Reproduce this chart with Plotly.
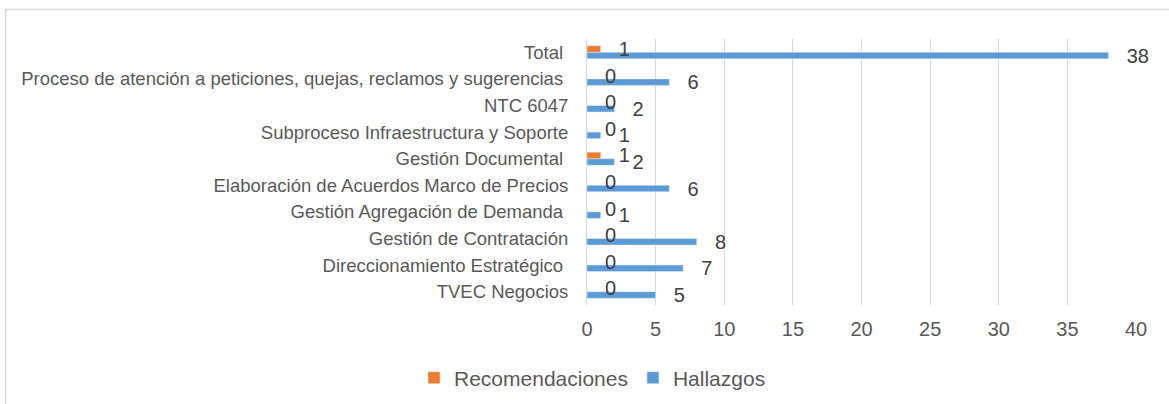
import plotly.graph_objects as go

categories = ["TVEC Negocios", "Direccionamiento Estratégico ", "Gestión de Contratación",
              "Gestión Agregación de Demanda ", "Elaboración de Acuerdos Marco de Precios",
              "Gestión Documental ", "Subproceso Infraestructura y Soporte", "NTC 6047",
              "Proceso de atención a peticiones, quejas, reclamos y sugerencias ", "Total "]
hallazgos = [5, 7, 8, 1, 6, 2, 1, 2, 6, 38]
recomendaciones = [0, 0, 0, 0, 0, 1, 0, 0, 0, 1]
x_ticks = [0, 5, 10, 15, 20, 25, 30, 35, 40]

font_family = "Liberation Sans, Arial, sans-serif"
gray = "#595959"
W, H = 1169, 404
ML, MR, MT, MB = 587, 33, 39, 99
PW, PH = W - ML - MR, H - MT - MB

label_tpl = "\u00a0\u00a0\u2009%{x}"

fig = go.Figure()
fig.add_trace(go.Bar(
    y=categories, x=hallazgos, name="Hallazgos", orientation="h",
    marker_color="#5B9BD5", text=hallazgos, texttemplate=label_tpl,
    textposition="outside", constraintext="none",
    textfont=dict(size=20, color="#404040", family=font_family), cliponaxis=False,
))
fig.add_trace(go.Bar(
    y=categories, x=recomendaciones, name="Recomendaciones", orientation="h",
    marker_color="#ED7D31", text=recomendaciones, texttemplate=label_tpl,
    textposition="outside", constraintext="none",
    textfont=dict(size=20, color="#404040", family=font_family), cliponaxis=False,
))

fig.update_layout(
    width=W, height=H,
    margin=dict(l=ML, r=MR, t=MT, b=MB, autoexpand=False),
    paper_bgcolor="white", plot_bgcolor="white",
    barmode="group", bargap=0.51, bargroupgap=0.0,
    font=dict(family=font_family, color=gray),
    showlegend=True,
    legend=dict(orientation="h", x=(414 - ML) / PW, xanchor="left",
                y=-(378 - (H - MB)) / PH, yanchor="middle",
                traceorder="reversed", font=dict(size=21, color=gray),
                bgcolor="rgba(0,0,0,0)", itemwidth=30),
    xaxis=dict(range=[0, 40], tickvals=x_ticks, showgrid=True, gridcolor="#D9D9D9",
               gridwidth=1, zeroline=False, showline=False, automargin=False,
               tickfont=dict(size=20, color=gray), ticks="outside", ticklen=6,
               tickcolor="rgba(0,0,0,0)"),
    yaxis=dict(showgrid=False, showline=True, linecolor="#D9D9D9", linewidth=1,
               automargin=False,
               tickfont=dict(size=18.5, color=gray), ticks="outside", ticklen=14,
               tickcolor="rgba(0,0,0,0)"),
)
# outer chart border
fig.add_shape(type="rect", xref="paper", yref="paper",
              x0=(5.5 - ML) / PW, x1=(1175 - ML) / PW,
              y0=-(410 - (H - MB)) / PH, y1=((H - MB) - 9.5) / PH,
              line=dict(color="#D9D9D9", width=1.5), layer="below")

fig.write_html("out.html", post_script="document.body.style.margin='0';",
               config={"displayModeBar": False})
